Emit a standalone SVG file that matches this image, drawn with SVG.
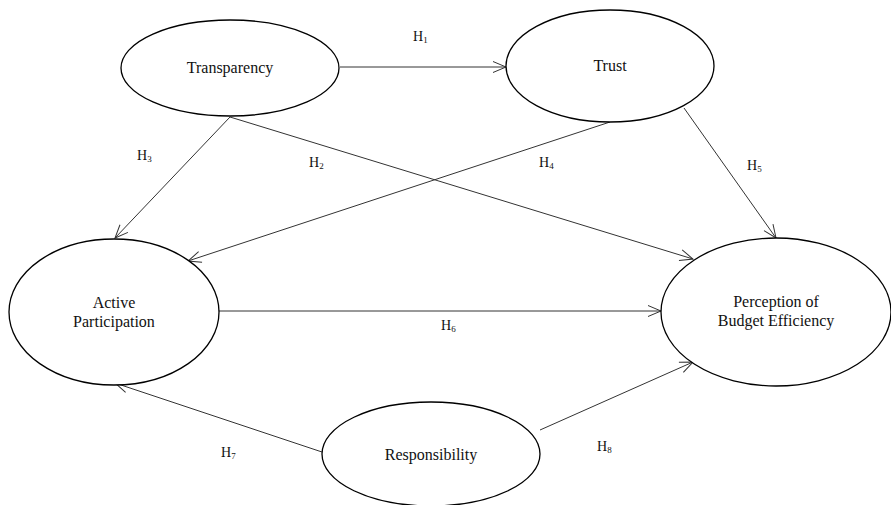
<svg xmlns="http://www.w3.org/2000/svg" width="891" height="505" viewBox="0 0 891 505">
<style>
.node ellipse{fill:#fff;stroke:#000;stroke-width:1.3}
.lbl{font-family:'Liberation Serif','Times New Roman',Times,'DejaVu Serif',serif;font-size:16px;fill:#111;text-anchor:middle}
.h{font-family:'Liberation Serif','Times New Roman',Times,'DejaVu Serif',serif;font-size:14px;fill:#111}
.h tspan{font-size:9px}
#connectors line{stroke:#333;stroke-width:1;fill:none}
</style>
<defs>
<marker id="arr" markerUnits="userSpaceOnUse" markerWidth="16" markerHeight="14" refX="14" refY="7" orient="auto" viewBox="0 0 16 14">
<path d="M1,1.5 L14,7 L1,12.5" fill="none" stroke="#333" stroke-width="1"/>
</marker>
</defs>
<rect width="891" height="505" fill="#fff"/>
<g id="connectors">
<line x1="340" y1="67" x2="506" y2="67" marker-end="url(#arr)"/>
<line x1="230" y1="117" x2="693" y2="259" marker-end="url(#arr)"/>
<line x1="230" y1="117" x2="115" y2="238" marker-end="url(#arr)"/>
<line x1="610" y1="122" x2="188" y2="261" marker-end="url(#arr)"/>
<line x1="684" y1="108" x2="776" y2="238" marker-end="url(#arr)"/>
<line x1="218" y1="311" x2="661" y2="311" marker-end="url(#arr)"/>
<line x1="322" y1="452" x2="115" y2="383" marker-end="url(#arr)"/>
<line x1="540" y1="430" x2="693" y2="362" marker-end="url(#arr)"/>
</g>
<g id="transparency" class="node"><ellipse cx="230" cy="68" rx="109" ry="48"/><text class="lbl" x="230" y="73">Transparency</text></g>
<g id="trust" class="node"><ellipse cx="610" cy="66" rx="104" ry="56"/><text class="lbl" x="610" y="71">Trust</text></g>
<g id="active-participation" class="node"><ellipse cx="114" cy="312" rx="105" ry="73"/><text class="lbl" x="114" y="308">Active</text><text class="lbl" x="114" y="327">Participation</text></g>
<g id="perception" class="node"><ellipse cx="776" cy="312" rx="115" ry="74"/><text class="lbl" x="776" y="307">Perception of</text><text class="lbl" x="776" y="326">Budget Efficiency</text></g>
<g id="responsibility" class="node"><ellipse cx="431" cy="454" rx="109" ry="52"/><text class="lbl" x="431" y="460">Responsibility</text></g>
<g id="labels">
<text class="h" x="413" y="41">H<tspan dy="2">1</tspan></text>
<text class="h" x="309" y="167">H<tspan dy="2">2</tspan></text>
<text class="h" x="137" y="160">H<tspan dy="2">3</tspan></text>
<text class="h" x="539" y="167">H<tspan dy="2">4</tspan></text>
<text class="h" x="747" y="170">H<tspan dy="2">5</tspan></text>
<text class="h" x="441" y="330">H<tspan dy="2">6</tspan></text>
<text class="h" x="221" y="457">H<tspan dy="2">7</tspan></text>
<text class="h" x="597" y="451">H<tspan dy="2">8</tspan></text>
</g>
</svg>
